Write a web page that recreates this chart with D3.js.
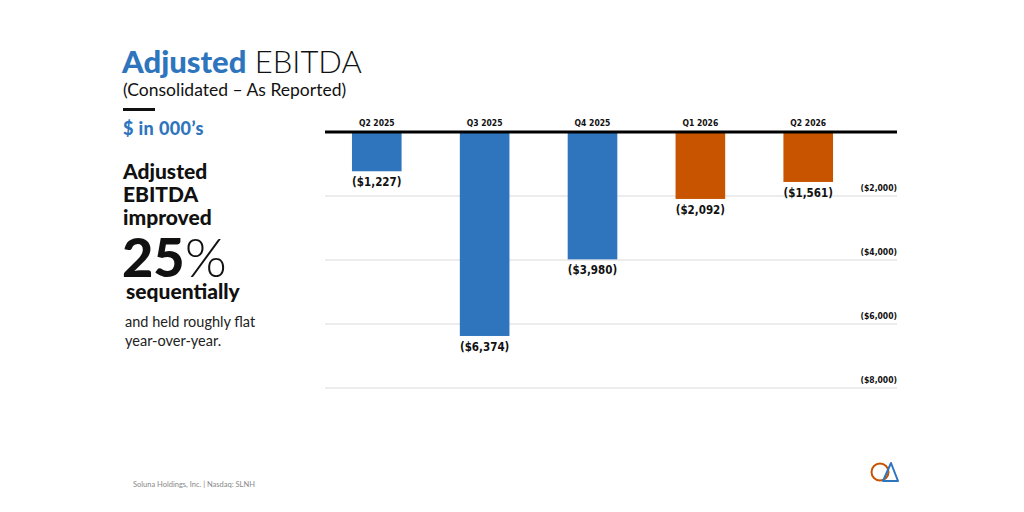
<!DOCTYPE html>
<html><head><meta charset="utf-8">
<script src="https://cdn.jsdelivr.net/npm/d3@7"></script>
<style>
html,body{margin:0;padding:0;background:#fff;}
svg{display:block;font-family:Lato,"Open Sans",sans-serif;}
</style></head>
<body>
<svg id="c" width="1024" height="512"></svg>
<script>
const categories = ["Q2 2025","Q3 2025","Q4 2025","Q1 2026","Q2 2026"];
const values = [-1227,-6374,-3980,-2092,-1561];
const barColors = ["#2E75BE","#2E75BE","#2E75BE","#C85400","#C85400"];
const valueLabels = ["($1,227)","($6,374)","($3,980)","($2,092)","($1,561)"];
const tickValues = [-2000,-4000,-6000,-8000];
const tickLabels = ["($2,000)","($4,000)","($6,000)","($8,000)"];

const svg = d3.select("#c");
const blue = "#2E75BE";
const chartFont = "'DejaVu Sans Condensed','DejaVu Sans',sans-serif";

// Left text block
const t = svg.append("text").attr("x",122).attr("y",73).attr("font-size",31);
t.append("tspan").text("Adjusted").attr("font-weight",900).attr("fill",blue);
t.append("tspan").text(" EBITDA").attr("font-weight",300).attr("fill","#111");
svg.append("text").attr("x",123).attr("y",96).attr("font-size",17.5).attr("fill","#111").text("(Consolidated – As Reported)");
svg.append("rect").attr("x",123).attr("y",108).attr("width",32).attr("height",3).attr("fill","#111");
svg.append("text").attr("x",123).attr("y",135).attr("font-size",18).attr("font-weight",900).attr("fill",blue).attr("letter-spacing",0.4).text("$ in 000’s");
["Adjusted","EBITDA","improved"].forEach((s,i)=>{
  svg.append("text").attr("x",123).attr("y",179+i*23).attr("font-size",21).attr("font-weight",900).attr("fill","#111").text(s);
});
const p = svg.append("text").attr("x",122).attr("y",277).attr("font-size",54).attr("fill","#111");
p.append("tspan").text("25").attr("font-weight",900);
p.append("tspan").text("%").attr("font-weight",300);
svg.append("text").attr("x",126).attr("y",299).attr("font-size",21).attr("font-weight",900).attr("fill","#111").text("sequentially");
svg.append("text").attr("x",125).attr("y",327).attr("font-size",14.5).attr("fill","#222").text("and held roughly flat");
svg.append("text").attr("x",125).attr("y",346).attr("font-size",14.5).attr("fill","#222").text("year-over-year.");

// Chart
const x0 = 325, x1 = 897;
const x = d3.scaleBand().domain(categories).range([325, 860]).paddingInner(0.54).paddingOuter(0.25);
const y = d3.scaleLinear().domain([0,-8000]).range([132,388]);

const g = svg.append("g");
g.selectAll("line.grid").data(tickValues).join("line")
  .attr("x1",x0).attr("x2",x1).attr("y1",d=>y(d)).attr("y2",d=>y(d))
  .attr("stroke","#d9d9d9").attr("stroke-width",1);
g.selectAll("text.tick").data(tickValues).join("text")
  .attr("x",x1).attr("y",d=>y(d)-5).attr("text-anchor","end")
  .attr("font-family",chartFont)
  .attr("font-size",8.5).attr("font-weight",700).attr("fill","#111")
  .text((d,i)=>tickLabels[i]);

g.selectAll("rect.bar").data(values).join("rect")
  .attr("x",(d,i)=>x(categories[i])).attr("width",x.bandwidth())
  .attr("y",y(0)).attr("height",d=>y(d)-y(0))
  .attr("fill",(d,i)=>barColors[i]);

g.append("line").attr("x1",x0).attr("x2",x1).attr("y1",y(0)).attr("y2",y(0)).attr("stroke","#000").attr("stroke-width",3);

g.selectAll("text.cat").data(categories).join("text")
  .attr("x",d=>x(d)+x.bandwidth()/2).attr("y",126).attr("text-anchor","middle")
  .attr("font-family",chartFont)
  .attr("font-size",8.5).attr("font-weight",700).attr("fill","#111").text(d=>d);

g.selectAll("text.val").data(values).join("text")
  .attr("x",(d,i)=>x(categories[i])+x.bandwidth()/2).attr("y",d=>y(d)+15).attr("text-anchor","middle")
  .attr("font-family",chartFont)
  .attr("font-size",11.5).attr("font-weight",700).attr("fill","#111").text((d,i)=>valueLabels[i]);

// Footer
svg.append("text").attr("x",133).attr("y",487).attr("font-size",7.5).attr("fill","#888").text("Soluna Holdings, Inc. | Nasdaq: SLNH");

// Logo
svg.append("circle").attr("cx",880).attr("cy",472).attr("r",8.5).attr("fill","none").attr("stroke","#C85400").attr("stroke-width",2);
svg.append("path").attr("d","M883,481 L891,463 L898,481 Z").attr("fill","none").attr("stroke","#2E75BE").attr("stroke-width",2).attr("stroke-linejoin","round");
</script>
</body></html>
